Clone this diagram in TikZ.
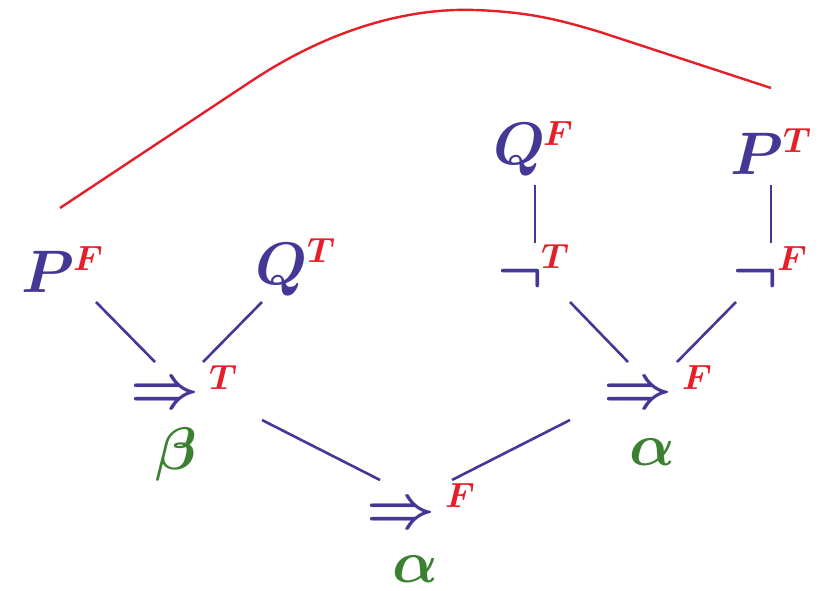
\RequirePackage{fix-cm}
\documentclass[tikz,border=0pt]{standalone}
\usepackage{bm}
\definecolor{tblue}{RGB}{68,56,150}
\definecolor{tred}{RGB}{230,30,40}
\definecolor{tgreen}{RGB}{60,128,50}
\tikzset{
  mainlab/.style={text=tblue, font=\fontsize{60}{72}\selectfont\boldmath, inner sep=0pt, anchor=base},
  taglab/.style={text=tred, font=\fontsize{35}{42}\selectfont\boldmath, inner sep=0pt, anchor=base},
  rulelab/.style={text=tgreen, font=\fontsize{60}{72}\selectfont\boldmath, inner sep=0pt, anchor=base},
  edgeline/.style={draw=tblue, line width=2.6pt},
  linkline/.style={draw=tred, line width=2.4pt}
}
\begin{document}
\begin{tikzpicture}[x=1pt,y=-1pt]
\useasboundingbox (0,0) rectangle (820,590);
% main formulas
\node[mainlab] (pf) at (48,292) {$P$};
\node[taglab] (pfs) at (88,270) {$F$};
\node[mainlab] (qt) at (282,284) {$Q$};
\node[taglab] (qts) at (321,262) {$T$};
\node[mainlab] (qf) at (520,164) {$Q$};
\node[taglab] (qfs) at (558,145) {$F$};
\node[mainlab] (pt) at (757,174) {$P$};
\node[taglab] (pts) at (797,152) {$T$};
\node[mainlab] (nt) at (520,291) {$\neg$};
\node[taglab] (nts) at (555,268) {$T$};
\node[mainlab] (nf) at (755,291) {$\neg$};
\node[taglab] (nfs) at (792,270) {$F$};
\node[mainlab] (it) at (165,407) {$\Rightarrow$};
\node[taglab] (its) at (223,389) {$T$};
\node[mainlab] (ifr) at (638,407) {$\Rightarrow$};
\node[taglab] (ifrs) at (697,389) {$F$};
\node[mainlab] (ifb) at (401,527) {$\Rightarrow$};
\node[taglab] (ifbs) at (460,507) {$F$};
% rule labels
\node[rulelab] (beta) at (176,469) {$\beta$};
\node[rulelab] (alr) at (652,465) {$\alpha$};
\node[rulelab] (alb) at (415,582) {$\alpha$};
% connector end points
\coordinate (e1a) at (96,302);  \coordinate (e1b) at (155,362);
\coordinate (e2a) at (262,302); \coordinate (e2b) at (203,362);
\coordinate (e3a) at (262,420); \coordinate (e3b) at (380,480);
\coordinate (e4a) at (570,420); \coordinate (e4b) at (452,480);
\coordinate (e5a) at (570,302); \coordinate (e5b) at (628,362);
\coordinate (e6a) at (736,302); \coordinate (e6b) at (677,362);
\coordinate (e7a) at (535,185); \coordinate (e7b) at (535,243);
\coordinate (e8a) at (771,185); \coordinate (e8b) at (771,243);
\draw[edgeline] (e1a) -- (e1b);
\draw[edgeline] (e2a) -- (e2b);
\draw[edgeline] (e3a) -- (e3b);
\draw[edgeline] (e4a) -- (e4b);
\draw[edgeline] (e5a) -- (e5b);
\draw[edgeline] (e6a) -- (e6b);
\draw[edgeline] (e7a) -- (e7b);
\draw[edgeline] (e8a) -- (e8b);
% closing link
\coordinate (la) at (60,208);
\coordinate (lb) at (771,88);
\draw[linkline] (la) -- (250,82) .. controls (340,22) and (420,8) .. (475,10)
  .. controls (530,12) and (560,20) .. (600,32) -- (lb);
\end{tikzpicture}
\end{document}
